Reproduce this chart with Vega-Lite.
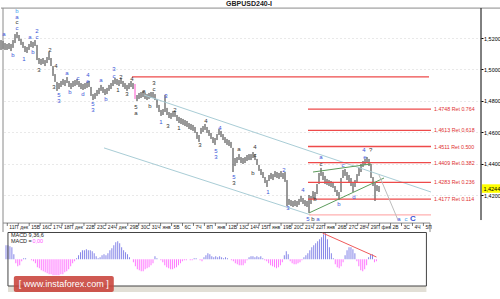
{
"$schema": "https://vega.github.io/schema/vega-lite/v6.json",
"padding": 0,
"spacing": 0,
"bounds": "flush",
"background": "white",
"config": {"view": {"stroke": null}, "font": "Liberation Sans"},
"datasets": {
"bars": [
{"b":0,"h":1.5187,"l":1.5124},{"b":1,"h":1.5181,"l":1.5130},{"b":2,"h":1.5168,"l":1.5124},{"b":3,"h":1.5162,"l":1.5124},{"b":4,"h":1.5168,"l":1.5130},{"b":5,"h":1.5162,"l":1.5117},{"b":6,"h":1.5187,"l":1.5137},{"b":7,"h":1.5225,"l":1.5168},{"b":8,"h":1.5238,"l":1.5200},{"b":9,"h":1.5219,"l":1.5181},
{"b":10,"h":1.5194,"l":1.5156},{"b":11,"h":1.5175,"l":1.5137},{"b":12,"h":1.5149,"l":1.5111},{"b":13,"h":1.5143,"l":1.5105},{"b":14,"h":1.5162,"l":1.5124},{"b":15,"h":1.5181,"l":1.5143},{"b":16,"h":1.5175,"l":1.5137},{"b":17,"h":1.5187,"l":1.5149},{"b":18,"h":1.5156,"l":1.5060},{"b":19,"h":1.5073,"l":1.5035},
{"b":20,"h":1.5067,"l":1.5029},{"b":21,"h":1.5073,"l":1.5035},{"b":22,"h":1.5060,"l":1.5022},{"b":23,"h":1.5079,"l":1.5041},{"b":24,"h":1.5111,"l":1.5060},{"b":25,"h":1.5073,"l":1.5022},{"b":26,"h":1.5022,"l":1.4959},{"b":27,"h":1.4971,"l":1.4921},{"b":28,"h":1.4921,"l":1.4864},{"b":29,"h":1.4914,"l":1.4876},
{"b":30,"h":1.4927,"l":1.4889},{"b":31,"h":1.4940,"l":1.4902},{"b":32,"h":1.4933,"l":1.4895},{"b":33,"h":1.4952,"l":1.4914},{"b":34,"h":1.4927,"l":1.4889},{"b":35,"h":1.4914,"l":1.4876},{"b":36,"h":1.4927,"l":1.4889},{"b":37,"h":1.4933,"l":1.4895},{"b":38,"h":1.4940,"l":1.4902},{"b":39,"h":1.4927,"l":1.4889},
{"b":40,"h":1.4914,"l":1.4876},{"b":41,"h":1.4908,"l":1.4870},{"b":42,"h":1.4914,"l":1.4876},{"b":43,"h":1.4921,"l":1.4883},{"b":44,"h":1.4927,"l":1.4889},{"b":45,"h":1.4889,"l":1.4832},{"b":46,"h":1.4844,"l":1.4806},{"b":47,"h":1.4851,"l":1.4813},{"b":48,"h":1.4870,"l":1.4832},{"b":49,"h":1.4883,"l":1.4844},
{"b":50,"h":1.4902,"l":1.4864},{"b":51,"h":1.4889,"l":1.4851},{"b":52,"h":1.4876,"l":1.4838},{"b":53,"h":1.4883,"l":1.4844},{"b":54,"h":1.4902,"l":1.4864},{"b":55,"h":1.4914,"l":1.4876},{"b":56,"h":1.4933,"l":1.4895},{"b":57,"h":1.4946,"l":1.4908},{"b":58,"h":1.4940,"l":1.4902},{"b":59,"h":1.4933,"l":1.4895},
{"b":60,"h":1.4946,"l":1.4908},{"b":61,"h":1.4927,"l":1.4889},{"b":62,"h":1.4914,"l":1.4876},{"b":63,"h":1.4902,"l":1.4864},{"b":64,"h":1.4914,"l":1.4876},{"b":65,"h":1.4927,"l":1.4889},{"b":66,"h":1.4914,"l":1.4876},{"b":67,"h":1.4908,"l":1.4813},{"b":68,"h":1.4838,"l":1.4800},{"b":69,"h":1.4851,"l":1.4813},
{"b":70,"h":1.4857,"l":1.4819},{"b":71,"h":1.4864,"l":1.4825},{"b":72,"h":1.4851,"l":1.4813},{"b":73,"h":1.4844,"l":1.4806},{"b":74,"h":1.4851,"l":1.4813},{"b":75,"h":1.4857,"l":1.4819},{"b":76,"h":1.4857,"l":1.4819},{"b":77,"h":1.4844,"l":1.4806},{"b":78,"h":1.4813,"l":1.4756},{"b":79,"h":1.4775,"l":1.4730},
{"b":80,"h":1.4743,"l":1.4705},{"b":81,"h":1.4749,"l":1.4711},{"b":82,"h":1.4838,"l":1.4730},{"b":83,"h":1.4756,"l":1.4711},{"b":84,"h":1.4730,"l":1.4692},{"b":85,"h":1.4724,"l":1.4686},{"b":86,"h":1.4737,"l":1.4699},{"b":87,"h":1.4737,"l":1.4699},{"b":88,"h":1.4711,"l":1.4673},{"b":89,"h":1.4699,"l":1.4660},
{"b":90,"h":1.4692,"l":1.4654},{"b":91,"h":1.4686,"l":1.4648},{"b":92,"h":1.4679,"l":1.4641},{"b":93,"h":1.4673,"l":1.4635},{"b":94,"h":1.4660,"l":1.4622},{"b":95,"h":1.4654,"l":1.4616},{"b":96,"h":1.4648,"l":1.4610},{"b":97,"h":1.4635,"l":1.4597},{"b":98,"h":1.4603,"l":1.4559},{"b":99,"h":1.4584,"l":1.4540},
{"b":100,"h":1.4629,"l":1.4591},{"b":101,"h":1.4641,"l":1.4603},{"b":102,"h":1.4654,"l":1.4616},{"b":103,"h":1.4635,"l":1.4597},{"b":104,"h":1.4616,"l":1.4578},{"b":105,"h":1.4597,"l":1.4559},{"b":106,"h":1.4571,"l":1.4533},{"b":107,"h":1.4565,"l":1.4521},{"b":108,"h":1.4590,"l":1.4552},{"b":109,"h":1.4622,"l":1.4584},
{"b":110,"h":1.4610,"l":1.4571},{"b":111,"h":1.4590,"l":1.4552},{"b":112,"h":1.4571,"l":1.4533},{"b":113,"h":1.4559,"l":1.4521},{"b":114,"h":1.4552,"l":1.4514},{"b":115,"h":1.4540,"l":1.4502},{"b":116,"h":1.4502,"l":1.4349},{"b":117,"h":1.4438,"l":1.4387},{"b":118,"h":1.4444,"l":1.4406},{"b":119,"h":1.4463,"l":1.4425},
{"b":120,"h":1.4444,"l":1.4406},{"b":121,"h":1.4438,"l":1.4400},{"b":122,"h":1.4444,"l":1.4406},{"b":123,"h":1.4457,"l":1.4419},{"b":124,"h":1.4463,"l":1.4425},{"b":125,"h":1.4463,"l":1.4425},{"b":126,"h":1.4476,"l":1.4438},{"b":127,"h":1.4463,"l":1.4425},{"b":128,"h":1.4432,"l":1.4394},{"b":129,"h":1.4394,"l":1.4356},
{"b":130,"h":1.4368,"l":1.4330},{"b":131,"h":1.4349,"l":1.4311},{"b":132,"h":1.4317,"l":1.4279},{"b":133,"h":1.4298,"l":1.4254},{"b":134,"h":1.4330,"l":1.4292},{"b":135,"h":1.4343,"l":1.4305},{"b":136,"h":1.4336,"l":1.4298},{"b":137,"h":1.4355,"l":1.4317},{"b":138,"h":1.4349,"l":1.4311},{"b":139,"h":1.4343,"l":1.4305},
{"b":140,"h":1.4355,"l":1.4317},{"b":141,"h":1.4343,"l":1.4305},{"b":142,"h":1.4349,"l":1.4286},{"b":143,"h":1.4298,"l":1.4133},{"b":144,"h":1.4178,"l":1.4140},{"b":145,"h":1.4171,"l":1.4133},{"b":146,"h":1.4165,"l":1.4127},{"b":147,"h":1.4171,"l":1.4133},{"b":148,"h":1.4165,"l":1.4127},{"b":149,"h":1.4178,"l":1.4140},
{"b":150,"h":1.4197,"l":1.4159},{"b":151,"h":1.4184,"l":1.4146},{"b":152,"h":1.4171,"l":1.4133},{"b":153,"h":1.4165,"l":1.4127},{"b":154,"h":1.4203,"l":1.4089},{"b":155,"h":1.4197,"l":1.4146},{"b":156,"h":1.4228,"l":1.4178},{"b":157,"h":1.4222,"l":1.4171},{"b":158,"h":1.4273,"l":1.4209},{"b":159,"h":1.4343,"l":1.4273},
{"b":160,"h":1.4375,"l":1.4324},{"b":161,"h":1.4349,"l":1.4298},{"b":162,"h":1.4324,"l":1.4273},{"b":163,"h":1.4305,"l":1.4267},{"b":164,"h":1.4298,"l":1.4260},{"b":165,"h":1.4292,"l":1.4254},{"b":166,"h":1.4286,"l":1.4248},{"b":167,"h":1.4260,"l":1.4222},{"b":168,"h":1.4235,"l":1.4197},{"b":169,"h":1.4222,"l":1.4171},
{"b":170,"h":1.4311,"l":1.4222},{"b":171,"h":1.4362,"l":1.4311},{"b":172,"h":1.4368,"l":1.4324},{"b":173,"h":1.4349,"l":1.4298},{"b":174,"h":1.4330,"l":1.4279},{"b":175,"h":1.4311,"l":1.4260},{"b":176,"h":1.4279,"l":1.4222},{"b":177,"h":1.4298,"l":1.4254},{"b":178,"h":1.4336,"l":1.4286},{"b":179,"h":1.4375,"l":1.4324},
{"b":180,"h":1.4400,"l":1.4349},{"b":181,"h":1.4419,"l":1.4381},{"b":182,"h":1.4432,"l":1.4394},{"b":183,"h":1.4444,"l":1.4406},{"b":184,"h":1.4432,"l":1.4387},{"b":185,"h":1.4400,"l":1.4311},{"b":186,"h":1.4317,"l":1.4260},{"b":187,"h":1.4286,"l":1.4165},{"b":188,"h":1.4266,"l":1.4228},{"b":189,"h":1.4260,"l":1.4222}
],
"segs": [
{"kind":"frame","b1":0,"p1":1.5390,"b2":250,"p2":1.5390},
{"kind":"frame","b1":1,"p1":1.5390,"b2":1,"p2":1.3968},
{"kind":"frame","b1":1,"p1":1.4025,"b2":214.5,"p2":1.4025},
{"kind":"frame","b1":214.5,"p1":1.4025,"b2":214.5,"p2":1.3968},
{"kind":"axis","b1":240,"p1":1.5390,"b2":240,"p2":1.4044},
{"kind":"fib","b1":65.5,"p1":1.4953,"b2":214,"p2":1.4953},
{"kind":"fib","b1":153.5,"p1":1.4748,"b2":215,"p2":1.4748},
{"kind":"fib","b1":153.5,"p1":1.4613,"b2":215,"p2":1.4613},
{"kind":"fib","b1":153.5,"p1":1.4511,"b2":215,"p2":1.4511},
{"kind":"fib","b1":153.5,"p1":1.4409,"b2":215,"p2":1.4409},
{"kind":"fib","b1":153.5,"p1":1.4283,"b2":215,"p2":1.4283},
{"kind":"fib","b1":153.5,"p1":1.4177,"b2":215,"p2":1.4177},
{"kind":"fib0","b1":154,"p1":1.4077,"b2":215,"p2":1.4077},
{"kind":"chan","b1":71.5,"p1":1.4838,"b2":215,"p2":1.4222},
{"kind":"chan","b1":51.5,"p1":1.4502,"b2":155,"p2":1.4076},
{"kind":"green","b1":156,"p1":1.4349,"b2":185,"p2":1.4400},
{"kind":"green","b1":154,"p1":1.4089,"b2":191.5,"p2":1.4311},
{"kind":"proj","b1":189,"p1":1.4330,"b2":198.5,"p2":1.4044}
],
"fiblabels": [
{"b":216.5,"p":1.4748,"t":"1.4748 Ret 0.764"},
{"b":216.5,"p":1.4613,"t":"1.4613 Ret 0.618"},
{"b":216.5,"p":1.4511,"t":"1.4511 Ret 0.500"},
{"b":216.5,"p":1.4409,"t":"1.4409 Ret 0.382"},
{"b":216.5,"p":1.4283,"t":"1.4283 Ret 0.236"},
{"b":216.5,"p":1.4177,"t":"1.4177 Ret 0.114"}
],
"waves": [
{"b":8,"p":1.5371,"t":"b","deg":"sub"},{"b":8,"p":1.5333,"t":"a","deg":"major"},{"b":8,"p":1.5302,"t":"c","deg":"minor"},{"b":8,"p":1.5264,"t":"c","deg":"major"},
{"b":1.5,"p":1.5225,"t":"a","deg":"major"},{"b":6,"p":1.5092,"t":"b","deg":"major"},{"b":14.5,"p":1.5206,"t":"a","deg":"major"},{"b":18,"p":1.5244,"t":"2","deg":"major"},{"b":18,"p":1.5206,"t":"c","deg":"major"},{"b":16,"p":1.5111,"t":"b","deg":"major"},{"b":11.5,"p":1.5067,"t":"1","deg":"major"},
{"b":24.5,"p":1.5124,"t":"2","deg":"minor"},{"b":19,"p":1.4997,"t":"3","deg":"minor"},{"b":27.5,"p":1.5022,"t":"4","deg":"minor"},{"b":26.5,"p":1.4889,"t":"3","deg":"minor"},{"b":29,"p":1.4838,"t":"5","deg":"major"},{"b":29,"p":1.4800,"t":"3","deg":"major"},
{"b":33,"p":1.4978,"t":"a","deg":"major"},{"b":34.5,"p":1.4857,"t":"b","deg":"major"},{"b":38.5,"p":1.4946,"t":"c","deg":"major"},{"b":41,"p":1.4844,"t":"d","deg":"major"},{"b":43.5,"p":1.4965,"t":"4","deg":"major"},{"b":43.5,"p":1.4925,"t":"e","deg":"major"},{"b":46,"p":1.4781,"t":"5","deg":"major"},{"b":46,"p":1.4743,"t":"3","deg":"major"},
{"b":50,"p":1.4933,"t":"a","deg":"major"},{"b":52.5,"p":1.4813,"t":"b","deg":"major"},{"b":56.5,"p":1.5006,"t":"3","deg":"major"},{"b":56.5,"p":1.4959,"t":"c","deg":"major"},{"b":60,"p":1.4952,"t":"2","deg":"minor"},{"b":58.5,"p":1.4870,"t":"1","deg":"minor"},{"b":63,"p":1.4844,"t":"3","deg":"minor"},{"b":65.5,"p":1.4940,"t":"4","deg":"minor"},
{"b":67.5,"p":1.4765,"t":"5","deg":"minor"},{"b":67.5,"p":1.4724,"t":"a","deg":"minor"},{"b":71.5,"p":1.4863,"t":"a","deg":"minor"},{"b":74.5,"p":1.4768,"t":"b","deg":"minor"},{"b":76.5,"p":1.4912,"t":"3","deg":"minor"},{"b":76.5,"p":1.4873,"t":"c","deg":"minor"},
{"b":82.5,"p":1.4832,"t":"3","deg":"major"},{"b":80,"p":1.4667,"t":"1","deg":"major"},{"b":87,"p":1.4743,"t":"2","deg":"minor"},{"b":83.5,"p":1.4641,"t":"3","deg":"minor"},{"b":89,"p":1.4629,"t":"1","deg":"minor"},{"b":102.5,"p":1.4673,"t":"4","deg":"minor"},{"b":99.5,"p":1.4521,"t":"3","deg":"minor"},
{"b":107.5,"p":1.4485,"t":"5","deg":"major"},{"b":107.5,"p":1.4444,"t":"3","deg":"major"},{"b":109.5,"p":1.4629,"t":"4","deg":"major"},{"b":119,"p":1.4495,"t":"a","deg":"minor"},{"b":116.5,"p":1.4320,"t":"5","deg":"major"},{"b":116.5,"p":1.4279,"t":"3","deg":"minor"},
{"b":127,"p":1.4505,"t":"4","deg":"minor"},{"b":127,"p":1.4457,"t":"c","deg":"minor"},{"b":126,"p":1.4343,"t":"b","deg":"minor"},{"b":133.5,"p":1.4222,"t":"1","deg":"major"},{"b":141.5,"p":1.4362,"t":"2","deg":"major"},{"b":143.5,"p":1.4121,"t":"3","deg":"major"},{"b":151,"p":1.4235,"t":"4","deg":"major"},
{"b":153.5,"p":1.4051,"t":"5","deg":"major"},{"b":156,"p":1.4051,"t":"b","deg":"minor"},{"b":158.5,"p":1.4051,"t":"a","deg":"major"},{"b":160,"p":1.4447,"t":"a","deg":"major"},{"b":160,"p":1.4400,"t":"c","deg":"minor"},{"b":157,"p":1.4178,"t":"b","deg":"minor"},
{"b":171,"p":1.4394,"t":"c","deg":"major"},{"b":169,"p":1.4146,"t":"b","deg":"major"},{"b":176.5,"p":1.4190,"t":"d","deg":"major"},{"b":182,"p":1.4444,"t":"e","deg":"major"},{"b":181.5,"p":1.4488,"t":"4","deg":"major"},{"b":184.8,"p":1.4488,"t":"?","deg":"minor"},
{"b":199,"p":1.4051,"t":"a","deg":"major"},{"b":202.5,"p":1.4051,"t":"c","deg":"sub"}
],
"dates": [
{"b":4.15,"t":"11П"},{"b":9.63,"t":"дек"},{"b":15.10,"t":"15В"},{"b":20.58,"t":"16С"},{"b":26.05,"t":"17Ч"},{"b":31.53,"t":"18П"},{"b":37.00,"t":"дек"},{"b":42.48,"t":"22В"},{"b":47.95,"t":"23С"},{"b":53.43,"t":"24Ч"},
{"b":58.90,"t":"дек"},{"b":64.38,"t":"29В"},{"b":69.85,"t":"30С"},{"b":75.33,"t":"31Ч"},{"b":80.80,"t":"янв"},{"b":86.28,"t":"5В"},{"b":91.75,"t":"6С"},{"b":97.23,"t":"7Ч"},{"b":102.70,"t":"8П"},{"b":108.18,"t":"янв"},
{"b":113.65,"t":"12В"},{"b":119.13,"t":"13С"},{"b":124.60,"t":"14Ч"},{"b":130.08,"t":"15П"},{"b":135.55,"t":"янв"},{"b":141.03,"t":"19В"},{"b":146.50,"t":"20С"},{"b":151.98,"t":"21Ч"},{"b":157.45,"t":"22П"},{"b":162.93,"t":"янв"},
{"b":168.40,"t":"26В"},{"b":173.88,"t":"27С"},{"b":179.35,"t":"28Ч"},{"b":184.83,"t":"29П"},{"b":190.30,"t":"фев"},{"b":195.78,"t":"2В"},{"b":201.25,"t":"3С"},{"b":206.73,"t":"4Ч"},{"b":212.20,"t":"5П"}
],
"macd": [
{"b":0,"m":14},{"b":1,"m":14},{"b":2,"m":13},{"b":3,"m":12},{"b":4,"m":5},{"b":5,"m":-4},{"b":6,"m":-7},{"b":7,"m":-6},{"b":8,"m":-2},{"b":9,"m":1},
{"b":10,"m":1},{"b":11,"m":0},{"b":12,"m":0},{"b":13,"m":-1},{"b":14,"m":-2},{"b":15,"m":-4},{"b":16,"m":-8},{"b":17,"m":-9},{"b":18,"m":-11},{"b":19,"m":-12},
{"b":20,"m":-13},{"b":21,"m":-14},{"b":22,"m":-15},{"b":23,"m":-15},{"b":24,"m":-16},{"b":25,"m":-16},{"b":26,"m":-16},{"b":27,"m":-16},{"b":28,"m":-15},{"b":29,"m":-15},
{"b":30,"m":-13},{"b":31,"m":-12},{"b":32,"m":-10},{"b":33,"m":-7},{"b":34,"m":-4},{"b":35,"m":-2},{"b":36,"m":1},{"b":37,"m":4},{"b":38,"m":7},{"b":39,"m":9},
{"b":40,"m":9},{"b":41,"m":10},{"b":42,"m":9},{"b":43,"m":9},{"b":44,"m":8},{"b":45,"m":6},{"b":46,"m":3},{"b":47,"m":1},{"b":48,"m":2},{"b":49,"m":4},
{"b":50,"m":5},{"b":51,"m":4},{"b":52,"m":6},{"b":53,"m":9},{"b":54,"m":11},{"b":55,"m":14},{"b":56,"m":17},{"b":57,"m":18},{"b":58,"m":16},{"b":59,"m":12},
{"b":60,"m":9},{"b":61,"m":7},{"b":62,"m":5},{"b":63,"m":2},{"b":64,"m":0},{"b":65,"m":-3},{"b":66,"m":-7},{"b":67,"m":-10},{"b":68,"m":-11},{"b":69,"m":-12},
{"b":70,"m":-12},{"b":71,"m":-10},{"b":72,"m":-9},{"b":73,"m":-8},{"b":74,"m":-6},{"b":75,"m":-4},{"b":76,"m":3},{"b":77,"m":1},{"b":78,"m":0},{"b":79,"m":-1},
{"b":80,"m":-3},{"b":81,"m":-6},{"b":82,"m":-8},{"b":83,"m":-9},{"b":84,"m":-10},{"b":85,"m":-10},{"b":86,"m":-9},{"b":87,"m":-8},{"b":88,"m":-6},{"b":89,"m":-4},
{"b":90,"m":-2},{"b":91,"m":-1},{"b":92,"m":-1},{"b":93,"m":0},{"b":94,"m":-1},{"b":95,"m":-1},{"b":96,"m":1},{"b":97,"m":1},{"b":98,"m":0},{"b":99,"m":-1},
{"b":100,"m":-2},{"b":101,"m":2},{"b":102,"m":4},{"b":103,"m":6},{"b":104,"m":5},{"b":105,"m":3},{"b":106,"m":2},{"b":107,"m":3},{"b":108,"m":2},{"b":109,"m":3},
{"b":110,"m":2},{"b":111,"m":1},{"b":112,"m":2},{"b":113,"m":1},{"b":114,"m":0},{"b":115,"m":-1},{"b":116,"m":-2},{"b":117,"m":-4},{"b":118,"m":-5},{"b":119,"m":-6},
{"b":120,"m":-6},{"b":121,"m":-6},{"b":122,"m":-4},{"b":123,"m":-1},{"b":124,"m":2},{"b":125,"m":3},{"b":126,"m":3},{"b":127,"m":2},{"b":128,"m":3},{"b":129,"m":2},
{"b":130,"m":3},{"b":131,"m":1},{"b":132,"m":-1},{"b":133,"m":-2},{"b":134,"m":-4},{"b":135,"m":-6},{"b":136,"m":-7},{"b":137,"m":-8},{"b":138,"m":-9},{"b":139,"m":-8},
{"b":140,"m":-6},{"b":141,"m":-3},{"b":142,"m":4},{"b":143,"m":8},{"b":144,"m":5},{"b":145,"m":-2},{"b":146,"m":-4},{"b":147,"m":-5},{"b":148,"m":-5},{"b":149,"m":-4},
{"b":150,"m":-3},{"b":151,"m":-1},{"b":152,"m":2},{"b":153,"m":4},{"b":154,"m":6},{"b":155,"m":9},{"b":156,"m":12},{"b":157,"m":14},{"b":158,"m":16},{"b":159,"m":18},
{"b":160,"m":20},{"b":161,"m":22},{"b":162,"m":25},{"b":163,"m":26},{"b":164,"m":20},{"b":165,"m":12},{"b":166,"m":6},{"b":167,"m":1},{"b":168,"m":-5},{"b":169,"m":-8},
{"b":170,"m":-9},{"b":171,"m":-7},{"b":172,"m":-3},{"b":173,"m":4},{"b":174,"m":9},{"b":175,"m":12},{"b":176,"m":12},{"b":177,"m":10},{"b":178,"m":6},{"b":179,"m":-2},
{"b":180,"m":-7},{"b":181,"m":-11},{"b":182,"m":-12},{"b":183,"m":-10},{"b":184,"m":-6},{"b":185,"m":2},{"b":186,"m":5},{"b":187,"m":5},{"b":188,"m":-3},{"b":189,"m":-2}
]
},
"vconcat": [
{
"width": 500, "height": 232,
"layer": [
{"data": {"name": "bars"},
 "mark": {"type": "rule", "strokeWidth": 1},
 "encoding": {
  "x": {"field": "b", "type": "quantitative", "scale": {"domain": [0, 250], "nice": false, "zero": false}, "axis": null},
  "y": {"field": "h", "type": "quantitative", "scale": {"domain": [1.39681, 1.54413], "nice": false, "zero": false},
   "axis": {"orient": "right", "offset": -20, "title": null, "values": [1.42, 1.44, 1.46, 1.48, 1.5, 1.52],
    "labelExpr": "replace(format(datum.value, '.4f'), '.', ',')", "domain": false, "tickSize": 2, "tickColor": "#000",
    "labelFontSize": 5.5, "labelColor": "#000", "labelPadding": 0.5, "grid": true, "gridDash": [1, 3], "gridColor": "#d2d2d2"}},
  "y2": {"field": "l"},
  "color": {"condition": {"test": "datum.b == 67", "value": "#ff55cc"}, "value": "#333333"}
 }},
{"data": {"name": "segs"}, "transform": [{"filter": "datum.kind == 'chan'"}],
 "mark": {"type": "rule", "strokeWidth": 1, "color": "#a9cdd6"},
 "encoding": {"x": {"field": "b1", "type": "quantitative", "scale": {"domain": [0, 250], "nice": false, "zero": false}}, "x2": {"field": "b2"},
  "y": {"field": "p1", "type": "quantitative", "scale": {"domain": [1.39681, 1.54413], "nice": false, "zero": false}}, "y2": {"field": "p2"}}},
{"data": {"name": "segs"}, "transform": [{"filter": "datum.kind == 'frame'"}],
 "mark": {"type": "rule", "strokeWidth": 1, "color": "#8a8a8a"},
 "encoding": {"x": {"field": "b1", "type": "quantitative", "scale": {"domain": [0, 250], "nice": false, "zero": false}}, "x2": {"field": "b2"},
  "y": {"field": "p1", "type": "quantitative", "scale": {"domain": [1.39681, 1.54413], "nice": false, "zero": false}}, "y2": {"field": "p2"}}},
{"data": {"name": "segs"}, "transform": [{"filter": "datum.kind == 'axis'"}],
 "mark": {"type": "rule", "strokeWidth": 1, "color": "#000000"},
 "encoding": {"x": {"field": "b1", "type": "quantitative", "scale": {"domain": [0, 250], "nice": false, "zero": false}}, "x2": {"field": "b2"},
  "y": {"field": "p1", "type": "quantitative", "scale": {"domain": [1.39681, 1.54413], "nice": false, "zero": false}}, "y2": {"field": "p2"}}},
{"data": {"name": "segs"}, "transform": [{"filter": "datum.kind == 'fib'"}],
 "mark": {"type": "rule", "strokeWidth": 1.3, "color": "#ee4a4a"},
 "encoding": {"x": {"field": "b1", "type": "quantitative", "scale": {"domain": [0, 250], "nice": false, "zero": false}}, "x2": {"field": "b2"},
  "y": {"field": "p1", "type": "quantitative", "scale": {"domain": [1.39681, 1.54413], "nice": false, "zero": false}}, "y2": {"field": "p2"}}},
{"data": {"name": "segs"}, "transform": [{"filter": "datum.kind == 'fib0'"}],
 "mark": {"type": "rule", "strokeWidth": 1.3, "color": "#ffb0b0"},
 "encoding": {"x": {"field": "b1", "type": "quantitative", "scale": {"domain": [0, 250], "nice": false, "zero": false}}, "x2": {"field": "b2"},
  "y": {"field": "p1", "type": "quantitative", "scale": {"domain": [1.39681, 1.54413], "nice": false, "zero": false}}, "y2": {"field": "p2"}}},
{"data": {"name": "segs"}, "transform": [{"filter": "datum.kind == 'green'"}],
 "mark": {"type": "rule", "strokeWidth": 1, "color": "#5c9c5c"},
 "encoding": {"x": {"field": "b1", "type": "quantitative", "scale": {"domain": [0, 250], "nice": false, "zero": false}}, "x2": {"field": "b2"},
  "y": {"field": "p1", "type": "quantitative", "scale": {"domain": [1.39681, 1.54413], "nice": false, "zero": false}}, "y2": {"field": "p2"}}},
{"data": {"name": "segs"}, "transform": [{"filter": "datum.kind == 'proj'"}],
 "mark": {"type": "rule", "strokeWidth": 1, "color": "#bdbdbd"},
 "encoding": {"x": {"field": "b1", "type": "quantitative", "scale": {"domain": [0, 250], "nice": false, "zero": false}}, "x2": {"field": "b2"},
  "y": {"field": "p1", "type": "quantitative", "scale": {"domain": [1.39681, 1.54413], "nice": false, "zero": false}}, "y2": {"field": "p2"}}},
{"data": {"name": "fiblabels"},
 "mark": {"type": "text", "align": "left", "baseline": "middle", "fontSize": 5.3, "color": "#e03030"},
 "encoding": {"x": {"field": "b", "type": "quantitative", "scale": {"domain": [0, 250], "nice": false, "zero": false}},
  "y": {"field": "p", "type": "quantitative", "scale": {"domain": [1.39681, 1.54413], "nice": false, "zero": false}}, "text": {"field": "t"}}},
{"data": {"name": "waves"}, "transform": [{"filter": "datum.deg == 'major'"}],
 "mark": {"type": "text", "align": "center", "baseline": "middle", "fontSize": 6, "color": "#3a55d8"},
 "encoding": {"x": {"field": "b", "type": "quantitative", "scale": {"domain": [0, 250], "nice": false, "zero": false}},
  "y": {"field": "p", "type": "quantitative", "scale": {"domain": [1.39681, 1.54413], "nice": false, "zero": false}}, "text": {"field": "t"}}},
{"data": {"name": "waves"}, "transform": [{"filter": "datum.deg == 'minor'"}],
 "mark": {"type": "text", "align": "center", "baseline": "middle", "fontSize": 6, "color": "#333333"},
 "encoding": {"x": {"field": "b", "type": "quantitative", "scale": {"domain": [0, 250], "nice": false, "zero": false}},
  "y": {"field": "p", "type": "quantitative", "scale": {"domain": [1.39681, 1.54413], "nice": false, "zero": false}}, "text": {"field": "t"}}},
{"data": {"name": "waves"}, "transform": [{"filter": "datum.deg == 'sub'"}],
 "mark": {"type": "text", "align": "center", "baseline": "middle", "fontSize": 6, "color": "#3fa3ef"},
 "encoding": {"x": {"field": "b", "type": "quantitative", "scale": {"domain": [0, 250], "nice": false, "zero": false}},
  "y": {"field": "p", "type": "quantitative", "scale": {"domain": [1.39681, 1.54413], "nice": false, "zero": false}}, "text": {"field": "t"}}},
{"data": {"values": [{"b": 206, "p": 1.4051, "t": "C"}]},
 "mark": {"type": "text", "align": "center", "baseline": "middle", "fontSize": 8, "fontWeight": "bold", "color": "#3a55d8"},
 "encoding": {"x": {"field": "b", "type": "quantitative", "scale": {"domain": [0, 250], "nice": false, "zero": false}},
  "y": {"field": "p", "type": "quantitative", "scale": {"domain": [1.39681, 1.54413], "nice": false, "zero": false}}, "text": {"field": "t"}}},
{"data": {"name": "dates"},
 "mark": {"type": "text", "align": "left", "baseline": "middle", "fontSize": 5, "color": "#222222"},
 "encoding": {"x": {"field": "b", "type": "quantitative", "scale": {"domain": [0, 250], "nice": false, "zero": false}},
  "y": {"datum": 1.3997, "type": "quantitative", "scale": {"domain": [1.39681, 1.54413], "nice": false, "zero": false}}, "text": {"field": "t"}}},
{"data": {"name": "dates"},
 "mark": {"type": "tick", "orient": "vertical", "size": 3, "thickness": 1, "color": "#444444", "xOffset": -2},
 "encoding": {"x": {"field": "b", "type": "quantitative", "scale": {"domain": [0, 250], "nice": false, "zero": false}},
  "y": {"datum": 1.4015, "type": "quantitative", "scale": {"domain": [1.39681, 1.54413], "nice": false, "zero": false}}}},
{"data": {"values": [{"b": 124, "p": 1.5413, "t": "GBPUSD240-I"}]},
 "mark": {"type": "text", "align": "center", "baseline": "middle", "fontSize": 7, "fontWeight": "bold", "color": "#222222"},
 "encoding": {"x": {"field": "b", "type": "quantitative", "scale": {"domain": [0, 250], "nice": false, "zero": false}},
  "y": {"field": "p", "type": "quantitative", "scale": {"domain": [1.39681, 1.54413], "nice": false, "zero": false}}, "text": {"field": "t"}}},
{"data": {"values": [{"b1": 240.5, "b2": 250, "p1": 1.4217, "p2": 1.4271}]},
 "mark": {"type": "rect", "color": "#ffff00"},
 "encoding": {"x": {"field": "b1", "type": "quantitative", "scale": {"domain": [0, 250], "nice": false, "zero": false}}, "x2": {"field": "b2"},
  "y": {"field": "p1", "type": "quantitative", "scale": {"domain": [1.39681, 1.54413], "nice": false, "zero": false}}, "y2": {"field": "p2"}}},
{"data": {"values": [{"b": 241.2, "p": 1.4244, "t": "1,4244"}]},
 "mark": {"type": "text", "align": "left", "baseline": "middle", "fontSize": 5.5, "color": "#000000"},
 "encoding": {"x": {"field": "b", "type": "quantitative", "scale": {"domain": [0, 250], "nice": false, "zero": false}},
  "y": {"field": "p", "type": "quantitative", "scale": {"domain": [1.39681, 1.54413], "nice": false, "zero": false}}, "text": {"field": "t"}}}
]
},
{
"width": 500, "height": 67,
"layer": [
{"data": {"values": [{"b1": 1, "b2": 214.5, "m1": -26.7, "m2": -32.7}]},
 "mark": {"type": "rect", "color": "#e2dfd6"},
 "encoding": {"x": {"field": "b1", "type": "quantitative", "scale": {"domain": [0, 250], "nice": false, "zero": false}, "axis": null}, "x2": {"field": "b2"},
  "y": {"field": "m1", "type": "quantitative", "scale": {"domain": [-39.7, 27.3], "nice": false, "zero": false}, "axis": null}, "y2": {"field": "m2"}}},
{"data": {"name": "macd"},
 "mark": {"type": "bar", "width": 1},
 "encoding": {"x": {"field": "b", "type": "quantitative", "scale": {"domain": [0, 250], "nice": false, "zero": false}},
  "y": {"field": "m", "type": "quantitative", "scale": {"domain": [-39.7, 27.3], "nice": false, "zero": false}},
  "color": {"condition": {"test": "datum.m >= 0", "value": "#8585e8"}, "value": "#ff77ff"}}},
{"data": {"values": [{"b1": 1, "b2": 214.5, "m1": -26.7, "m2": 26.8}]},
 "mark": {"type": "rect", "fillOpacity": 0, "stroke": "#444444", "strokeWidth": 1},
 "encoding": {"x": {"field": "b1", "type": "quantitative", "scale": {"domain": [0, 250], "nice": false, "zero": false}}, "x2": {"field": "b2"},
  "y": {"field": "m1", "type": "quantitative", "scale": {"domain": [-39.7, 27.3], "nice": false, "zero": false}}, "y2": {"field": "m2"}}},
{"data": {"values": [{"b1": 161.5, "m1": 26.3, "b2": 189, "m2": 2.3}]},
 "mark": {"type": "rule", "strokeWidth": 1, "color": "#f05a5a"},
 "encoding": {"x": {"field": "b1", "type": "quantitative", "scale": {"domain": [0, 250], "nice": false, "zero": false}}, "x2": {"field": "b2"},
  "y": {"field": "m1", "type": "quantitative", "scale": {"domain": [-39.7, 27.3], "nice": false, "zero": false}}, "y2": {"field": "m2"}}},
{"data": {"values": [{"b": 2.5, "m": 24.3, "t": "MACD 9,36,6"}, {"b": 2.5, "m": 18.3, "t": "MACD ="}]},
 "mark": {"type": "text", "align": "left", "baseline": "middle", "fontSize": 5.5, "color": "#222222"},
 "encoding": {"x": {"field": "b", "type": "quantitative", "scale": {"domain": [0, 250], "nice": false, "zero": false}},
  "y": {"field": "m", "type": "quantitative", "scale": {"domain": [-39.7, 27.3], "nice": false, "zero": false}}, "text": {"field": "t"}}},
{"data": {"values": [{"b": 13.5, "m": 18.3, "t": "0,00"}]},
 "mark": {"type": "text", "align": "left", "baseline": "middle", "fontSize": 5.5, "color": "#ff55ff"},
 "encoding": {"x": {"field": "b", "type": "quantitative", "scale": {"domain": [0, 250], "nice": false, "zero": false}},
  "y": {"field": "m", "type": "quantitative", "scale": {"domain": [-39.7, 27.3], "nice": false, "zero": false}}, "text": {"field": "t"}}},
{"data": {"values": [{"b1": 4, "b2": 55, "m1": -16.7, "m2": -32.7}]},
 "mark": {"type": "rect", "color": "#c8423a", "opacity": 0.88, "cornerRadius": 2},
 "encoding": {"x": {"field": "b1", "type": "quantitative", "scale": {"domain": [0, 250], "nice": false, "zero": false}}, "x2": {"field": "b2"},
  "y": {"field": "m1", "type": "quantitative", "scale": {"domain": [-39.7, 27.3], "nice": false, "zero": false}}, "y2": {"field": "m2"}}},
{"data": {"values": [{"b": 29.5, "m": -24.7, "t": "[ www.instaforex.com ]"}]},
 "mark": {"type": "text", "align": "center", "baseline": "middle", "fontSize": 9, "color": "#ffffff"},
 "encoding": {"x": {"field": "b", "type": "quantitative", "scale": {"domain": [0, 250], "nice": false, "zero": false}},
  "y": {"field": "m", "type": "quantitative", "scale": {"domain": [-39.7, 27.3], "nice": false, "zero": false}}, "text": {"field": "t"}}}
]
}
]
}
